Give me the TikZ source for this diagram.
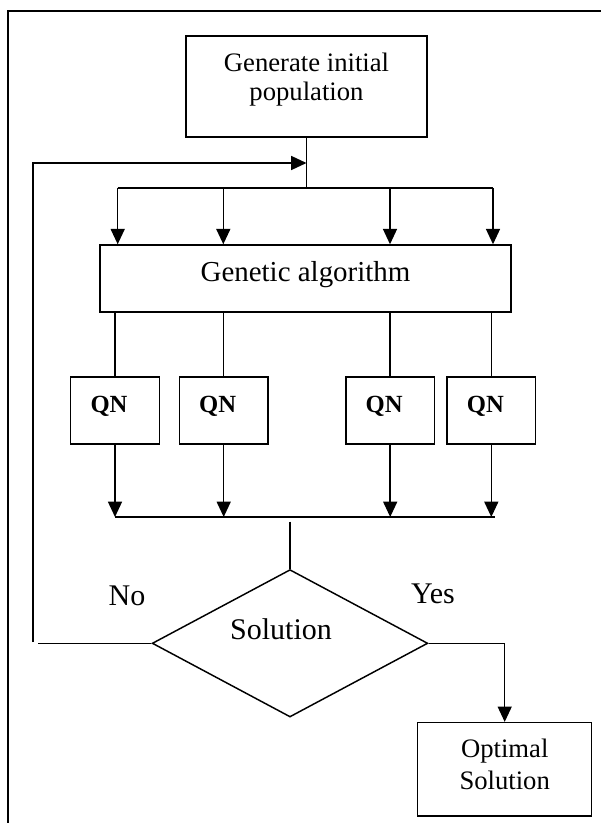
\documentclass[tikz,border=0pt]{standalone}
\usepackage{fontspec}
\setmainfont{Liberation Serif}
\usetikzlibrary{arrows.meta,shapes.geometric}
\begin{document}
\begin{tikzpicture}[x=0.75pt,y=-0.75pt,
  ln/.style={line width=1.1pt},
  arr/.style={ln,-{Triangle[length=11.5pt,width=10.5pt]}},
  box/.style={draw,ln,rectangle,inner sep=0pt},
  qnbox/.style={box,minimum width=66.45pt,minimum height=50.25pt,
     font=\bfseries\fontsize{18.5pt}{22pt}\selectfont,text height=13pt,text depth=10.3pt},
  lbl/.style={inner sep=0pt,font=\fontsize{22.5pt}{26pt}\selectfont}]
\useasboundingbox (0,0) rectangle (600,823);
% frame
\draw[line width=1.5pt] (8,824) -- (8,10.7) -- (602,10.7);
% boxes
\node[box,minimum width=180.75pt,minimum height=75.75pt,
  font=\fontsize{20pt}{21.75pt}\selectfont,text height=30pt,text depth=8.25pt]
  (init) at (306.5,86.5) {\begin{tabular}[b]{@{}c@{}}Generate initial\\population\end{tabular}};
\node[box,minimum width=308.25pt,minimum height=50.25pt,
  font=\fontsize{21.7pt}{25pt}\selectfont,text height=14pt,text depth=9.2pt]
  (ga) at (305.5,278.5) {Genetic algorithm};
\node[qnbox] (qn1) at (115,410.5) {QN\hspace*{9pt}};
\node[qnbox] (qn2) at (223.7,410.5) {QN\hspace*{9pt}};
\node[qnbox] (qn3) at (390.2,410.5) {QN\hspace*{9pt}};
\node[qnbox] (qn4) at (491.3,410.5) {QN\hspace*{9pt}};
\node[draw,ln,diamond,aspect=1.87,inner sep=0pt,minimum width=206.7pt,minimum height=110.55pt,
  font=\fontsize{22.5pt}{26pt}\selectfont,text height=15pt,text depth=20pt]
  (sol) at (290,643.3) {Solution\hspace*{13.5pt}};
\node[box,minimum width=130.5pt,minimum height=70pt,
  font=\fontsize{20pt}{24pt}\selectfont,text height=36pt,text depth=6.45pt]
  (opt) at (504.7,769.3) {\begin{tabular}[b]{@{}c@{}}Optimal\\Solution\end{tabular}};
\node[lbl,anchor=base] (no) at (127,605) {No};
\node[lbl,anchor=base] (yes) at (433,603) {Yes};
% coordinates
\coordinate (jn) at (306.5,163);
\coordinate (dL) at (117.7,188);
\coordinate (dR) at (493,188);
\coordinate (d1) at (117.7,188);
\coordinate (d2) at (223.3,188);
\coordinate (d3) at (390,188);
\coordinate (d4) at (493,188);
\coordinate (cL) at (115,517);
\coordinate (cR) at (495,517);
\coordinate (cm) at (290,521.7);
\coordinate (fb1) at (37.7,643.3);
\coordinate (fb2) at (33,642);
% connectors
\draw[ln] (init.south) -- (init.south |- dL);
\draw[ln] (dL) -- (dR);
\foreach \d in {d1,d2,d3,d4} \draw[arr] (\d) -- (\d |- ga.north);
\foreach \q in {qn1,qn2,qn3,qn4} \draw[ln] (\q.north |- ga.south) -- (\q.north);
\foreach \q in {qn1,qn2,qn3,qn4} \draw[arr] (\q.south) -- (\q.south |- cL);
\draw[ln] (cL) -- (cR);
\draw[ln] (cm) -- (sol.north);
\draw[ln] (sol.west) -- (fb1);
\draw[arr] (fb2) |- (jn);
\draw[arr] (sol.east) -| (opt.north);
\end{tikzpicture}
\end{document}
